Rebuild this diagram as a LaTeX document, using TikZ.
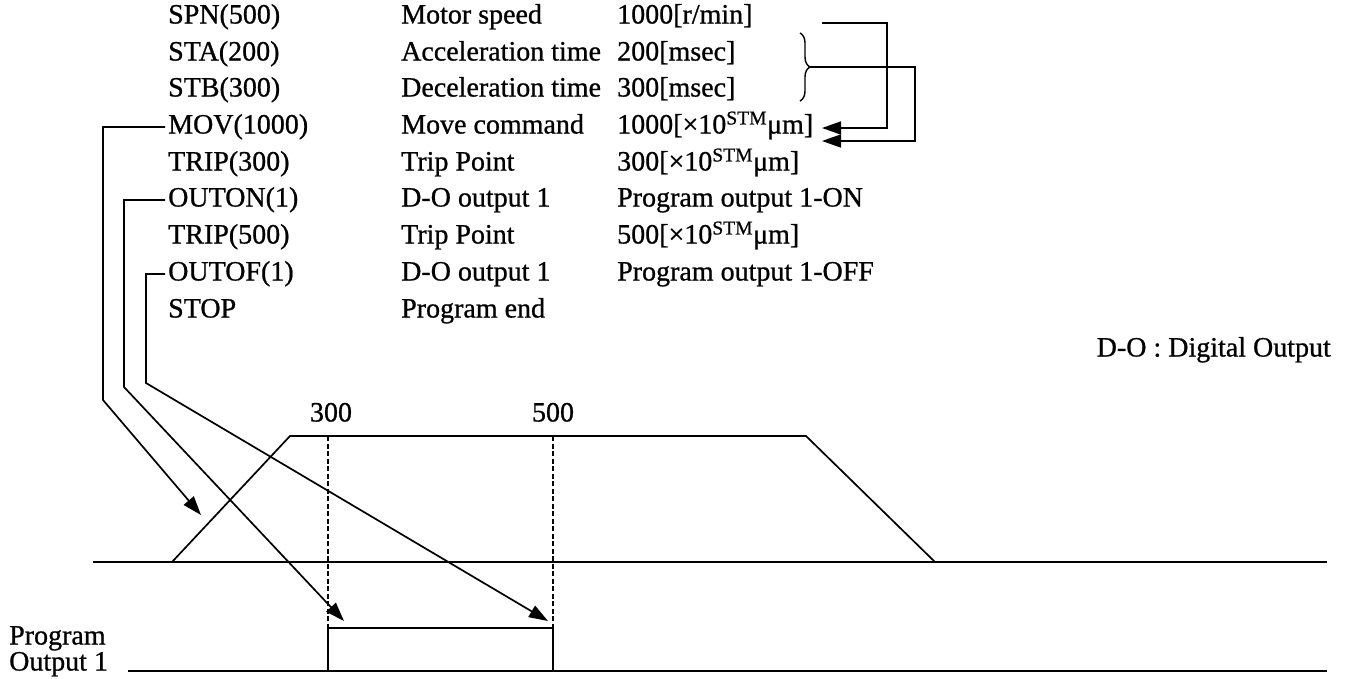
\documentclass[tikz,border=0pt]{standalone}
\usepackage{fontspec}
\setmainfont{Liberation Serif}[FakeBold=0.8]
\usetikzlibrary{arrows.meta,decorations.pathreplacing}
\begin{document}
\begin{tikzpicture}[x=1pt,y=-1pt,
  txt/.style={anchor=west, inner xsep=3pt, inner ysep=0pt, text height=19pt, text depth=6pt, font=\fontsize{28}{30}\selectfont},
  ln/.style={line width=1.7pt},
  arr/.style={ln,-{Triangle[length=19pt,width=13pt]}},
  dsh/.style={line width=1.5pt, dash pattern=on 5pt off 2.5pt}]
\useasboundingbox (0,0) rectangle (1351,678);
% column 1
\node[txt] (spn)   at (165,17)  {SPN(500)};
\node[txt] (sta)   at (165,54)  {STA(200)};
\node[txt] (stb)   at (165,90)  {STB(300)};
\node[txt] (mov)   at (165,127) {MOV(1000)};
\node[txt] (trA)   at (165,164) {TRIP(300)};
\node[txt] (outon) at (165,200) {OUTON(1)};
\node[txt] (trB)   at (165,237) {TRIP(500)};
\node[txt] (outof) at (165,274) {OUTOF(1)};
\node[txt] (stop)  at (165,311) {STOP};
% column 2
\node[txt] (d1) at (398,17)  {Motor speed};
\node[txt] (d2) at (398,54)  {Acceleration time};
\node[txt] (d3) at (398,90)  {Deceleration time};
\node[txt] (d4) at (398,127) {Move command};
\node[txt] (d5) at (398,164) {Trip Point};
\node[txt] (d6) at (398,200) {D-O output 1};
\node[txt] (d7) at (398,237) {Trip Point};
\node[txt] (d8) at (398,274) {D-O output 1};
\node[txt] (d9) at (398,311) {Program end};
% column 3
\node[txt] (v1) at (614,17)  {1000[r/min]};
\node[txt] (v2) at (614,54)  {200[msec]};
\node[txt] (v3) at (614,90)  {300[msec]};
\node[txt] (v4) at (614,127) {1000[×10\textsuperscript{STM}μm]};
\node[txt] (v5) at (614,164) {300[×10\textsuperscript{STM}μm]};
\node[txt] (v6) at (614,200) {Program output 1-ON};
\node[txt] (v7) at (614,237) {500[×10\textsuperscript{STM}μm]};
\node[txt] (v8) at (614,274) {Program output 1-OFF};
\node[txt, anchor=east] (dolbl) at (1334,350) {D-O : Digital Output};
% brace and connectors at the top right
\draw[line width=1.4pt, decorate, decoration={brace, amplitude=10pt}] (800,33) -- (800,101);
\coordinate (brtip) at (810,67);
\coordinate (a1) at (822,23);
\coordinate (a2) at (887,23);
\coordinate (a3) at (887,128);
\coordinate (t1) at (822,128);
\coordinate (b2) at (915,67);
\coordinate (b3) at (915,141);
\coordinate (t2) at (822,141);
\draw[arr] (a1) -- (a2) -- (a3) -- (t1);
\draw[arr] (brtip) -- (b2) -- (b3) -- (t2);
% motion profile
\coordinate (p0) at (172,562);
\coordinate (p1) at (290,436);
\coordinate (p2) at (806,436);
\coordinate (p3) at (935,562);
\draw[ln] (93,562) -- (1327,562);
\draw[ln] (p0) -- (p1) -- (p2) -- (p3);
\node[txt, anchor=center, inner xsep=0pt] (l300) at (331,415) {300};
\node[txt, anchor=center, inner xsep=0pt] (l500) at (553,415) {500};
\coordinate (q1) at (328,436);
\coordinate (q2) at (553,436);
\coordinate (r1) at (328,628);
\coordinate (r2) at (553,628);
\draw[dsh] (q1) -- (r1);
\draw[dsh] (q2) -- (r2);
% program output
\draw[ln] (128,671) -- (1327,671);
\draw[ln] (328,671) -- (r1) -- (r2) -- (553,671);
\node[txt, inner xsep=0pt] (pg1) at (9,638) {Program};
\node[txt, inner xsep=0pt] (pg2) at (9,664) {Output 1};
% left connectors
\coordinate (m1) at (103,127);
\coordinate (m2) at (103,400);
\coordinate (mtip) at (201,515);
\draw[arr] (mov.west) -- (m1) -- (m2) -- (mtip);
\coordinate (n1) at (124,200);
\coordinate (n2) at (124,387);
\coordinate (ntip) at (344,621);
\draw[arr] (outon.west) -- (n1) -- (n2) -- (ntip);
\coordinate (o1) at (146,274);
\coordinate (o2) at (146,383);
\coordinate (otip) at (548,621);
\draw[arr] (outof.west) -- (o1) -- (o2) -- (otip);
\end{tikzpicture}
\end{document}
